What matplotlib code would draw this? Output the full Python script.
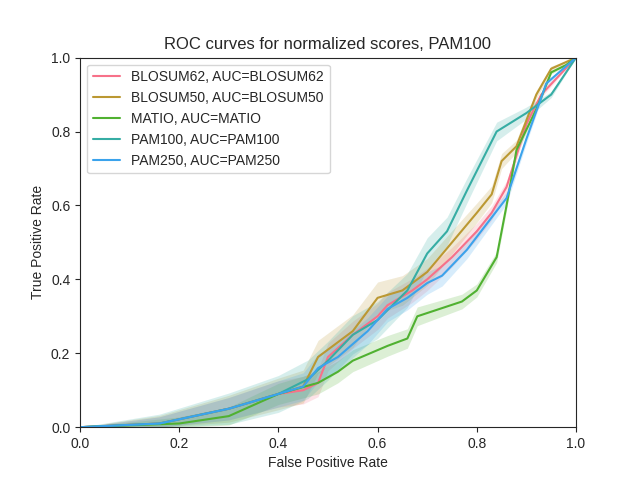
import numpy as np
import matplotlib
matplotlib.use("Agg")
import matplotlib.pyplot as plt
import seaborn as sns

sns.set_style("ticks")
plt.rcParams["font.family"] = ["Liberation Sans", "DejaVu Sans"]

names = ["BLOSUM62", "BLOSUM50", "MATIO", "PAM100", "PAM250"]
colors = sns.color_palette("husl", 6)[:5]

fpr = {
    "BLOSUM62": [0, 0.16, 0.3, 0.4, 0.45, 0.48, 0.5, 0.55, 0.6, 0.62, 0.67, 0.7, 0.75, 0.8, 0.83, 0.86, 0.9, 0.93, 1],
    "BLOSUM50": [0, 0.16, 0.3, 0.4, 0.45, 0.48, 0.55, 0.6, 0.65, 0.7, 0.75, 0.8, 0.83, 0.85, 0.88, 0.92, 0.95, 1],
    "MATIO": [0, 0.2, 0.3, 0.35, 0.4, 0.48, 0.52, 0.55, 0.62, 0.66, 0.68, 0.77, 0.8, 0.84, 0.86, 0.88, 0.92, 0.95, 0.98, 1],
    "PAM100": [0, 0.16, 0.3, 0.4, 0.46, 0.5, 0.55, 0.6, 0.66, 0.7, 0.74, 0.78, 0.84, 0.9, 0.95, 1],
    "PAM250": [0, 0.16, 0.3, 0.4, 0.45, 0.48, 0.52, 0.58, 0.62, 0.66, 0.7, 0.73, 0.78, 0.82, 0.86, 0.9, 0.94, 1],
}
tpr = {
    "BLOSUM62": [0, 0.01, 0.05, 0.09, 0.10, 0.12, 0.19, 0.25, 0.30, 0.33, 0.37, 0.40, 0.46, 0.53, 0.58, 0.65, 0.82, 0.90, 1],
    "BLOSUM50": [0, 0.01, 0.05, 0.09, 0.11, 0.19, 0.26, 0.35, 0.37, 0.42, 0.50, 0.58, 0.63, 0.72, 0.76, 0.90, 0.97, 1],
    "MATIO": [0, 0.01, 0.03, 0.06, 0.09, 0.12, 0.15, 0.18, 0.22, 0.24, 0.30, 0.34, 0.37, 0.46, 0.60, 0.75, 0.86, 0.96, 0.98, 1],
    "PAM100": [0, 0.01, 0.05, 0.09, 0.13, 0.18, 0.25, 0.29, 0.37, 0.47, 0.53, 0.64, 0.80, 0.85, 0.90, 1],
    "PAM250": [0, 0.01, 0.05, 0.09, 0.11, 0.16, 0.19, 0.26, 0.32, 0.35, 0.39, 0.41, 0.48, 0.55, 0.62, 0.78, 0.93, 1],
}
band = {"BLOSUM62": 0.025, "BLOSUM50": 0.03, "MATIO": 0.02, "PAM100": 0.035, "PAM250": 0.025}

fig, ax = plt.subplots(figsize=(6.4, 4.8), dpi=100)
for name, c in zip(names, colors):
    x = np.array(fpr[name])
    y = np.array(tpr[name])
    w = band[name] * np.sin(np.pi * x) * 1.5
    ax.fill_between(x, np.clip(y - w, 0, 1), np.clip(y + w, 0, 1), color=c, alpha=0.2, lw=0)
    ax.plot(x, y, color=c, lw=1.5, label=f"{name}, AUC={name}")

ax.set_xlim(0, 1)
ax.set_ylim(0, 1)
ax.set_xlabel("False Positive Rate")
ax.set_ylabel("True Positive Rate")
ax.set_title("ROC curves for normalized scores, PAM100")
ax.legend(loc="upper left")
fig.savefig("out.png")
